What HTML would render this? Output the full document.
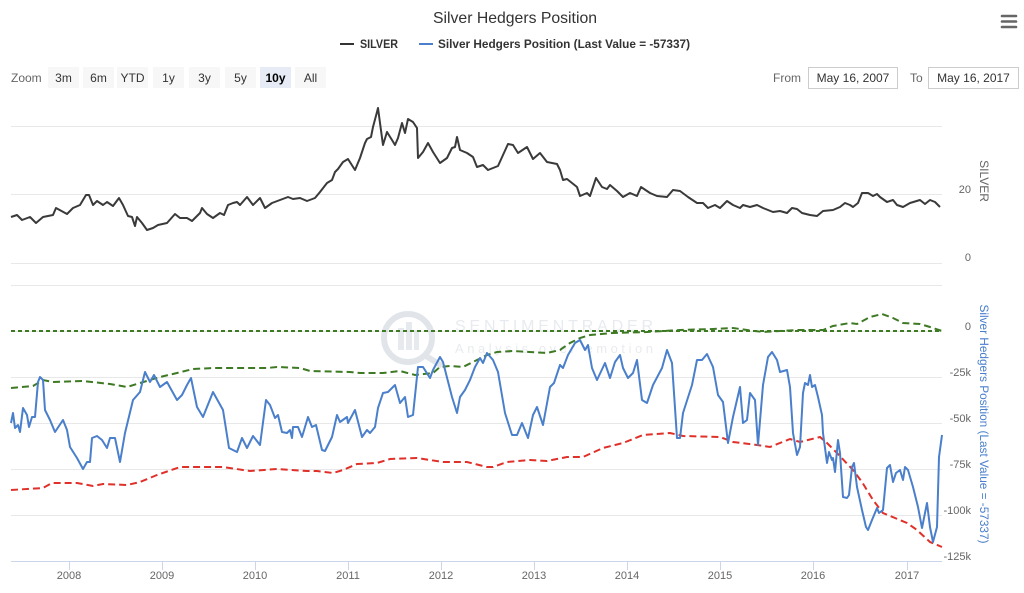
<!DOCTYPE html>
<html><head><meta charset="utf-8"><style>
html,body{margin:0;padding:0;background:#fff;}
svg{display:block;font-family:"Liberation Sans",sans-serif;}
</style></head><body>
<svg width="1024" height="593" viewBox="0 0 1024 593" xmlns="http://www.w3.org/2000/svg">
<rect width="1024" height="593" fill="#fff"/>
<!-- title -->
<text x="515" y="23" text-anchor="middle" font-size="16" fill="#333" textLength="164" lengthAdjust="spacingAndGlyphs">Silver Hedgers Position</text>
<!-- hamburger -->
<g stroke="#666" stroke-width="2.6" stroke-linecap="round">
<line x1="1002" y1="16" x2="1016" y2="16"/><line x1="1002" y1="21.5" x2="1016" y2="21.5"/><line x1="1002" y1="27" x2="1016" y2="27"/>
</g>
<!-- legend -->
<line x1="340" y1="44" x2="354" y2="44" stroke="#333" stroke-width="2"/>
<text x="360" y="48" font-size="12" font-weight="bold" fill="#333" textLength="38" lengthAdjust="spacingAndGlyphs">SILVER</text>
<line x1="419" y1="44" x2="433" y2="44" stroke="#4a7fcb" stroke-width="2"/>
<text x="438" y="48" font-size="12" font-weight="bold" fill="#333" textLength="252" lengthAdjust="spacingAndGlyphs">Silver Hedgers Position (Last Value = -57337)</text>
<!-- zoom buttons -->
<text x="11" y="82" font-size="12" fill="#666">Zoom</text>
<g font-size="12" fill="#333" text-anchor="middle">
<rect x="48" y="67" width="31" height="21" fill="#f7f7f7"/><text x="63.5" y="82">3m</text>
<rect x="83" y="67" width="31" height="21" fill="#f7f7f7"/><text x="98.5" y="82">6m</text>
<rect x="117" y="67" width="31" height="21" fill="#f7f7f7"/><text x="132.5" y="82">YTD</text>
<rect x="153" y="67" width="31" height="21" fill="#f7f7f7"/><text x="168.5" y="82">1y</text>
<rect x="189" y="67" width="31" height="21" fill="#f7f7f7"/><text x="204.5" y="82">3y</text>
<rect x="225" y="67" width="31" height="21" fill="#f7f7f7"/><text x="240.5" y="82">5y</text>
<rect x="260" y="67" width="31" height="21" fill="#e6ebf5"/><text x="275.5" y="82" font-weight="bold" fill="#000">10y</text>
<rect x="295" y="67" width="31" height="21" fill="#f7f7f7"/><text x="310.5" y="82">All</text>
</g>
<!-- date inputs -->
<text x="773" y="82" font-size="12" fill="#666">From</text>
<rect x="808.5" y="67.5" width="89" height="21" fill="#fff" stroke="#ccc"/>
<text x="853" y="82" font-size="12" fill="#333" text-anchor="middle">May 16, 2007</text>
<text x="910" y="82" font-size="12" fill="#666">To</text>
<rect x="928.5" y="67.5" width="90" height="21" fill="#fff" stroke="#ccc"/>
<text x="973.5" y="82" font-size="12" fill="#333" text-anchor="middle">May 16, 2017</text>
<!-- gridlines -->
<g stroke="#e8e8e8" stroke-width="1">
<line x1="11" y1="126.5" x2="942" y2="126.5"/>
<line x1="11" y1="194.5" x2="942" y2="194.5"/>
<line x1="11" y1="263.5" x2="942" y2="263.5"/>
<line x1="11" y1="285.5" x2="942" y2="285.5"/>
<line x1="11" y1="331.5" x2="942" y2="331.5"/>
<line x1="11" y1="377.5" x2="942" y2="377.5"/>
<line x1="11" y1="423.5" x2="942" y2="423.5"/>
<line x1="11" y1="469.5" x2="942" y2="469.5"/>
<line x1="11" y1="515.5" x2="942" y2="515.5"/>
</g>
<!-- x axis -->
<line x1="11" y1="561.5" x2="942" y2="561.5" stroke="#ccd6eb" stroke-width="1"/>
<g stroke="#ccd6eb" stroke-width="1">
<line x1="69.5" y1="561" x2="69.5" y2="570"/><line x1="162.5" y1="561" x2="162.5" y2="570"/><line x1="255.5" y1="561" x2="255.5" y2="570"/><line x1="348.5" y1="561" x2="348.5" y2="570"/><line x1="441.5" y1="561" x2="441.5" y2="570"/><line x1="534.5" y1="561" x2="534.5" y2="570"/><line x1="627.5" y1="561" x2="627.5" y2="570"/><line x1="720.5" y1="561" x2="720.5" y2="570"/><line x1="813.5" y1="561" x2="813.5" y2="570"/><line x1="907.5" y1="561" x2="907.5" y2="570"/>
</g>
<g font-size="11" fill="#666" text-anchor="middle">
<text x="69" y="579">2008</text><text x="162" y="579">2009</text><text x="255" y="579">2010</text><text x="348" y="579">2011</text><text x="441" y="579">2012</text><text x="534" y="579">2013</text><text x="627" y="579">2014</text><text x="720" y="579">2015</text><text x="813" y="579">2016</text><text x="907" y="579">2017</text>
</g>
<!-- y labels -->
<g font-size="11" fill="#666" text-anchor="end">
<text x="971" y="193">20</text>
<text x="971" y="261">0</text>
<text x="971" y="330">0</text>
<text x="971" y="376">-25k</text>
<text x="971" y="422">-50k</text>
<text x="971" y="468">-75k</text>
<text x="971" y="514">-100k</text>
<text x="971" y="560">-125k</text>
</g>
<text transform="translate(980,181) rotate(90)" font-size="12" fill="#666" text-anchor="middle">SILVER</text>
<text transform="translate(980,424) rotate(90)" font-size="12" fill="#4a7fcb" text-anchor="middle" textLength="239" lengthAdjust="spacingAndGlyphs">Silver Hedgers Position (Last Value = -57337)</text>
<!-- watermark -->
<g opacity="0.55">
<circle cx="408" cy="338" r="24" fill="none" stroke="#c9d0da" stroke-width="6"/>
<rect x="398" y="328" width="6" height="22" fill="#d3d9e1"/><rect x="406" y="322" width="6" height="28" fill="#d3d9e1"/><rect x="414" y="330" width="5" height="20" fill="#d3d9e1"/>
<line x1="426" y1="356" x2="442" y2="366" stroke="#c9d0da" stroke-width="6"/>
<text x="455" y="331" font-size="16" fill="#d5dbe3" textLength="198" lengthAdjust="spacing">SENTIMENTRADER</text>
<text x="455" y="353" font-size="13" fill="#d5dbe3" textLength="198" lengthAdjust="spacing">Analysis over emotion</text>
</g>
<!-- green flat 0 line -->
<line x1="11" y1="331" x2="942" y2="331" stroke="#3d7a23" stroke-width="2" stroke-dasharray="4,3"/>
<!-- green upper band -->
<polyline fill="none" stroke="#3d7a23" stroke-width="2" stroke-dasharray="7,4" points="11,388 33,386 43,380 53,382 83,381 110,384 127,387 140,383 160,377 177,373 193,369 213,368 267,368 277,367 300,368 310,371 350,372 360,373 383,373 400,371 415,375 433,373 440,367 450,366 463,367 477,360 487,355 497,352 513,351 547,353 560,350 570,343 580,338 590,335 613,333 647,332 680,330 713,329 733,328 747,330 763,332 797,330 823,330 833,326 850,323 857,324 870,317 882,314 893,318 903,323 920,324 930,327 942,331"/>
<!-- red lower band -->
<polyline fill="none" stroke="#e0302a" stroke-width="2" stroke-dasharray="7,4" points="11,490 43,488 52,483 77,483 93,486 103,484 127,485 140,482 157,475 180,467 223,467 250,471 277,469 307,471 317,471 333,473 343,470 357,464 377,463 390,459 417,458 443,462 467,462 487,467 493,467 507,462 530,460 547,461 567,457 583,457 603,448 623,443 643,435 670,433 683,436 720,437 733,442 757,445 770,447 790,439 800,442 820,437 827,443 837,453 853,470 862,482 873,500 883,513 907,523 917,530 930,542 942,547"/>
<!-- blue series -->
<polyline fill="none" stroke="#4a7fcb" stroke-width="2" stroke-linejoin="round" points="11,423 13,413 15,428 18,425 20,432 23,408 27,415 29,427 32,417 35,417 38,382 40,377 43,380 45,410 50,420 55,432 63,420 67,430 70,447 77,458 83,469 87,462 90,462 92,438 97,436 102,440 107,448 110,438 115,438 120,462 125,433 133,400 140,392 145,372 150,382 154,375 160,387 167,382 177,400 182,395 187,385 191,378 197,407 203,417 213,392 223,410 229,448 237,452 242,438 247,448 253,436 260,445 266,400 270,405 275,418 278,415 282,432 287,433 290,430 292,438 293,427 298,427 302,437 308,417 312,427 316,425 322,450 325,451 332,437 337,415 340,422 347,417 348,423 355,410 362,437 367,430 370,433 375,427 378,408 383,393 388,392 395,385 400,403 405,397 408,417 413,415 418,367 423,367 430,378 433,370 440,357 443,362 452,397 457,413 460,397 465,390 470,380 475,367 480,358 483,363 487,353 493,360 498,372 505,413 512,435 517,435 522,423 528,438 533,415 537,407 543,425 550,387 554,383 560,365 563,368 568,355 575,343 580,340 585,350 588,345 592,368 597,380 605,363 610,378 615,362 620,355 623,368 628,378 633,373 637,360 642,400 647,403 653,385 662,368 667,350 672,363 677,438 680,438 683,413 692,385 697,360 702,360 707,354 713,367 718,395 723,402 728,443 733,417 740,387 743,423 747,420 750,393 755,400 758,445 763,385 768,357 772,352 777,360 780,372 787,370 790,387 793,433 797,455 800,447 803,393 805,383 808,385 810,375 812,387 815,385 818,397 822,415 823,433 827,463 829,452 832,460 833,458 835,472 838,440 840,453 843,497 847,498 849,495 852,467 854,463 857,487 862,510 866,527 868,530 872,520 877,508 879,513 883,510 887,468 890,465 893,482 896,473 900,470 903,480 905,467 908,470 913,487 918,507 922,528 927,503 930,527 933,542 937,527 939,457 942,435"/>
<!-- silver -->
<polyline fill="none" stroke="#3a3a3a" stroke-width="2" stroke-linejoin="round" points="11,217 17,215 22,220 30,217 36,223 43,217 53,215 56,208 67,214 73,208 80,205 86,195 89,195 93,205 97,201 103,205 107,202 113,206 119,198 123,205 128,216 132,217 135,226 137,217 142,223 147,230 153,228 158,225 167,223 175,214 180,218 187,218 192,221 200,213 202,208 207,214 213,218 220,213 224,215 228,205 233,203 237,202 240,205 247,197 253,205 260,198 265,208 272,203 280,200 288,197 293,199 300,198 307,201 315,198 320,192 327,183 332,180 335,172 338,169 343,162 348,159 355,170 360,158 365,143 367,139 371,137 373,127 377,112 378,108 380,123 383,145 387,132 392,140 395,145 398,138 402,123 405,133 408,119 413,122 417,128 418,158 423,152 428,143 433,152 440,163 447,158 452,148 455,147 457,137 460,150 467,153 473,157 477,167 483,165 488,170 493,168 498,166 503,155 508,144 513,145 518,153 527,147 533,159 540,153 547,162 557,164 560,170 563,180 567,179 577,187 580,196 587,193 590,196 596,178 602,187 607,189 610,185 617,191 623,197 630,193 637,196 641,187 650,193 657,196 667,197 673,190 680,191 688,197 697,203 703,203 708,208 715,205 720,208 727,201 733,205 740,208 743,205 750,207 757,205 763,208 773,212 780,211 787,213 792,208 797,209 802,213 810,215 817,216 823,211 833,210 840,207 845,203 850,205 853,207 858,203 862,193 868,193 873,196 877,194 880,197 887,202 893,200 897,205 903,207 910,203 920,200 925,204 930,200 935,202 940,207"/>
</svg>
</body></html>
